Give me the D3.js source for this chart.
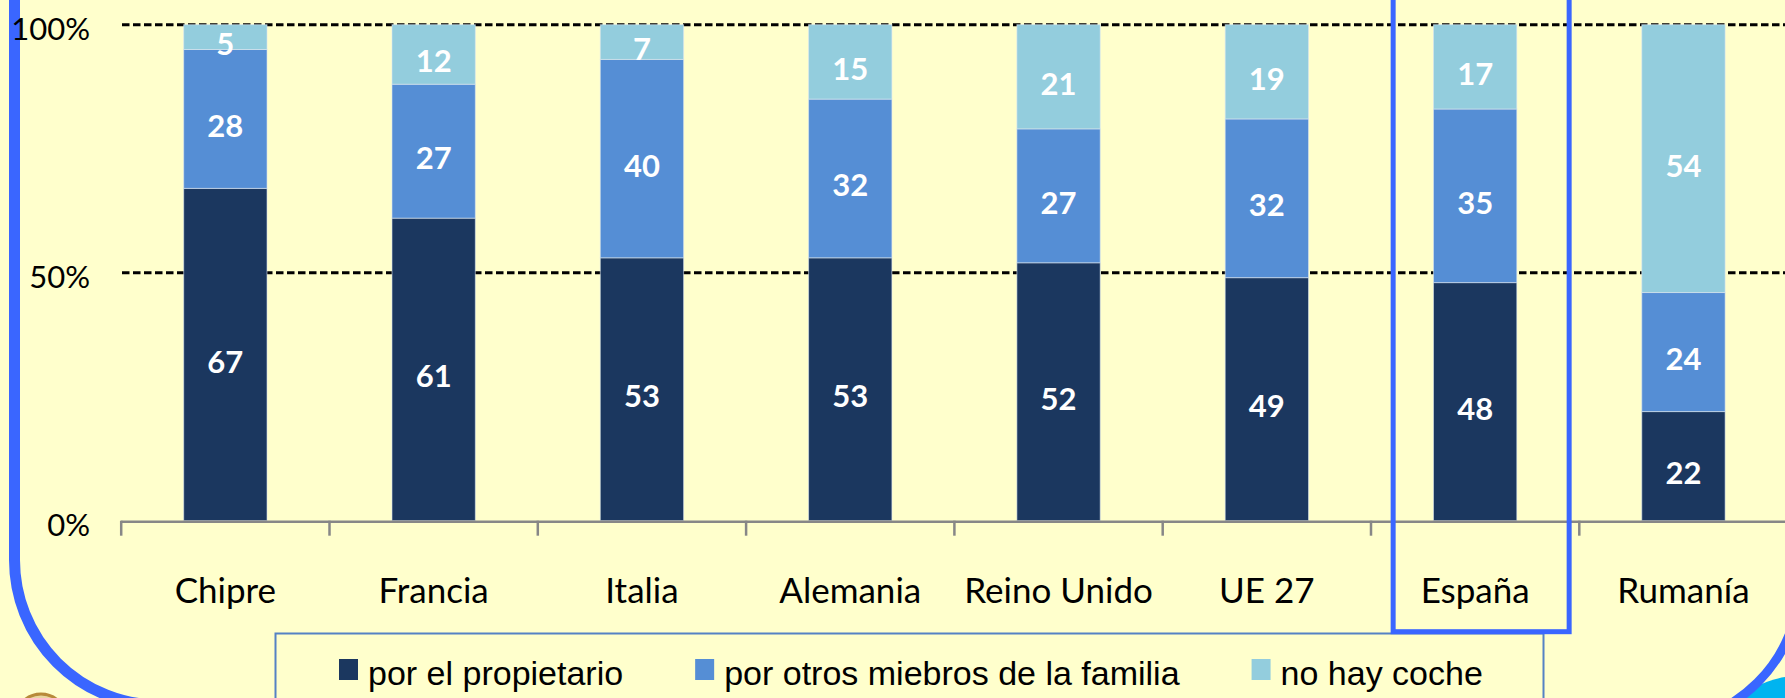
<!DOCTYPE html>
<html>
<head>
<meta charset="utf-8">
<script src="https://cdn.jsdelivr.net/npm/d3@7"></script>
<style>
  html, body { margin: 0; padding: 0; background: #ffffcc; }
  svg { display: block; }
</style>
</head>
<body>
<div id="chart"></div>
<script>
const categories = ["Chipre", "Francia", "Italia", "Alemania", "Reino Unido", "UE 27", "España", "Rumanía"];
const porPropietario = [67, 61, 53, 53, 52, 49, 48, 22];
const porOtrosMiembros = [28, 27, 40, 32, 27, 32, 35, 24];
const noHayCoche = [5, 12, 7, 15, 21, 19, 17, 54];
const seriesNames = ["por el propietario", "por otros miebros de la familia", "no hay coche"];
const seriesColors = ["#1b375f", "#558ed5", "#93cddd"];
const yTicks = [0, 50, 100];
const highlighted = "España";

const W = 1785, H = 698;
const svg = d3.select("#chart").append("svg").attr("width", W).attr("height", H);

svg.append("rect").attr("width", W).attr("height", H).attr("fill", "#ffffcc");

// slide decorations (rounded frame corners)
svg.append("path")
  .attr("d", "M14.5,-10 V560 A145,145 0 0 0 159.5,705")
  .attr("fill", "none").attr("stroke", "#3a66ff").attr("stroke-width", 11);
svg.append("ellipse").attr("cx", 1800).attr("cy", 722).attr("rx", 68).attr("ry", 46).attr("fill", "#00b4f0");
svg.append("path")
  .attr("d", "M1800,-10 V580 A145,145 0 0 1 1655,725")
  .attr("fill", "none").attr("stroke", "#3a66ff").attr("stroke-width", 9);
svg.append("ellipse").attr("cx", 41).attr("cy", 716).attr("rx", 24).attr("ry", 22)
  .attr("fill", "#e8d6a0").attr("stroke", "#b88a3a").attr("stroke-width", 3);

const x = d3.scaleBand().domain(categories).range([121.2, 1787.6]).paddingInner(0.6).paddingOuter(0.3);
const y = d3.scaleLinear().domain([0, 100]).range([520.7, 24.7]);

const rows = categories.map((c, i) => ({
  cat: c,
  [seriesNames[0]]: porPropietario[i],
  [seriesNames[1]]: porOtrosMiembros[i],
  [seriesNames[2]]: noHayCoche[i]
}));
const stacked = d3.stack().keys(seriesNames)(rows);

// dashed gridlines
svg.append("g").selectAll("line").data(yTicks.filter(t => t > 0)).join("line")
  .attr("x1", 122).attr("x2", W)
  .attr("y1", d => y(d)).attr("y2", d => y(d))
  .attr("stroke", "#000").attr("stroke-width", 3).attr("stroke-dasharray", "7.5,3.5");

// bars
const layers = svg.append("g").selectAll("g").data(stacked).join("g")
  .attr("fill", (d, i) => seriesColors[i]);
layers.selectAll("rect").data(d => d).join("rect")
  .attr("x", d => x(d.data.cat))
  .attr("width", x.bandwidth())
  .attr("y", d => y(d[1]))
  .attr("height", d => y(d[0]) - y(d[1]))
  .attr("stroke", "rgba(220,230,242,0.6)").attr("stroke-width", 1);

// value labels
layers.selectAll("text").data(d => d).join("text")
  .attr("x", d => x(d.data.cat) + x.bandwidth() / 2)
  .attr("y", d => (y(d[0]) + y(d[1])) / 2 + 18)
  .attr("text-anchor", "middle")
  .attr("fill", "#fff")
  .attr("font-family", "Lato, 'Open Sans', sans-serif")
  .attr("font-weight", "bold")
  .attr("font-size", 31)
  .text(d => d[1] - d[0]);

// y labels
svg.append("g").selectAll("text").data(yTicks).join("text")
  .attr("x", 90).attr("y", d => y(d) + 15)
  .attr("text-anchor", "end")
  .attr("font-family", "Lato, 'Open Sans', sans-serif")
  .attr("font-size", 31)
  .attr("fill", "#000")
  .text(d => d + "%");

// x axis baseline with boundary ticks
const step = x.step();
const bounds = categories.map(c => x(c) - step * x.paddingOuter()).concat([x.range()[1]]);
const axisG = svg.append("g");
axisG.append("line").attr("x1", bounds[0]).attr("x2", W).attr("y1", y(0) + 1).attr("y2", y(0) + 1)
  .attr("stroke", "#878787").attr("stroke-width", 2.5);
axisG.selectAll(".tk").data(bounds).join("line").attr("class", "tk")
  .attr("x1", d => d).attr("x2", d => d)
  .attr("y1", y(0)).attr("y2", y(0) + 15)
  .attr("stroke", "#878787").attr("stroke-width", 2.5);

// category labels through a bottom axis
const xAxis = svg.append("g").attr("transform", `translate(0,${y(0)})`)
  .call(d3.axisBottom(x).tickSize(0).tickPadding(0));
xAxis.select(".domain").remove();
xAxis.selectAll(".tick text")
  .attr("y", 82).attr("dy", 0)
  .attr("font-family", "Lato, 'Open Sans', sans-serif")
  .attr("font-size", 35)
  .attr("fill", "#000");

// legend
const legend = svg.append("g");
legend.append("rect").attr("x", 275.5).attr("y", 633.5).attr("width", 1268).attr("height", 100)
  .attr("fill", "#ffffcc").attr("stroke", "#5582c4").attr("stroke-width", 2);
let lx = 339;
seriesNames.forEach((name, i) => {
  legend.append("rect").attr("x", lx).attr("y", 659).attr("width", 19).attr("height", 21)
    .attr("fill", seriesColors[i]);
  const t = legend.append("text").attr("x", lx + 29).attr("y", 685)
    .attr("font-family", "'Liberation Sans', Arial, sans-serif")
    .attr("font-size", 34).attr("fill", "#000").text(name);
  lx = lx + 29 + t.node().getComputedTextLength() + 72;
});

// highlight box around España
const hx = x(highlighted) + x.bandwidth() / 2;
svg.append("rect")
  .attr("x", hx - 82).attr("y", -20).attr("width", 176).attr("height", 651.7)
  .attr("fill", "none").attr("stroke", "#3a66ff").attr("stroke-width", 5);
</script>
</body>
</html>
